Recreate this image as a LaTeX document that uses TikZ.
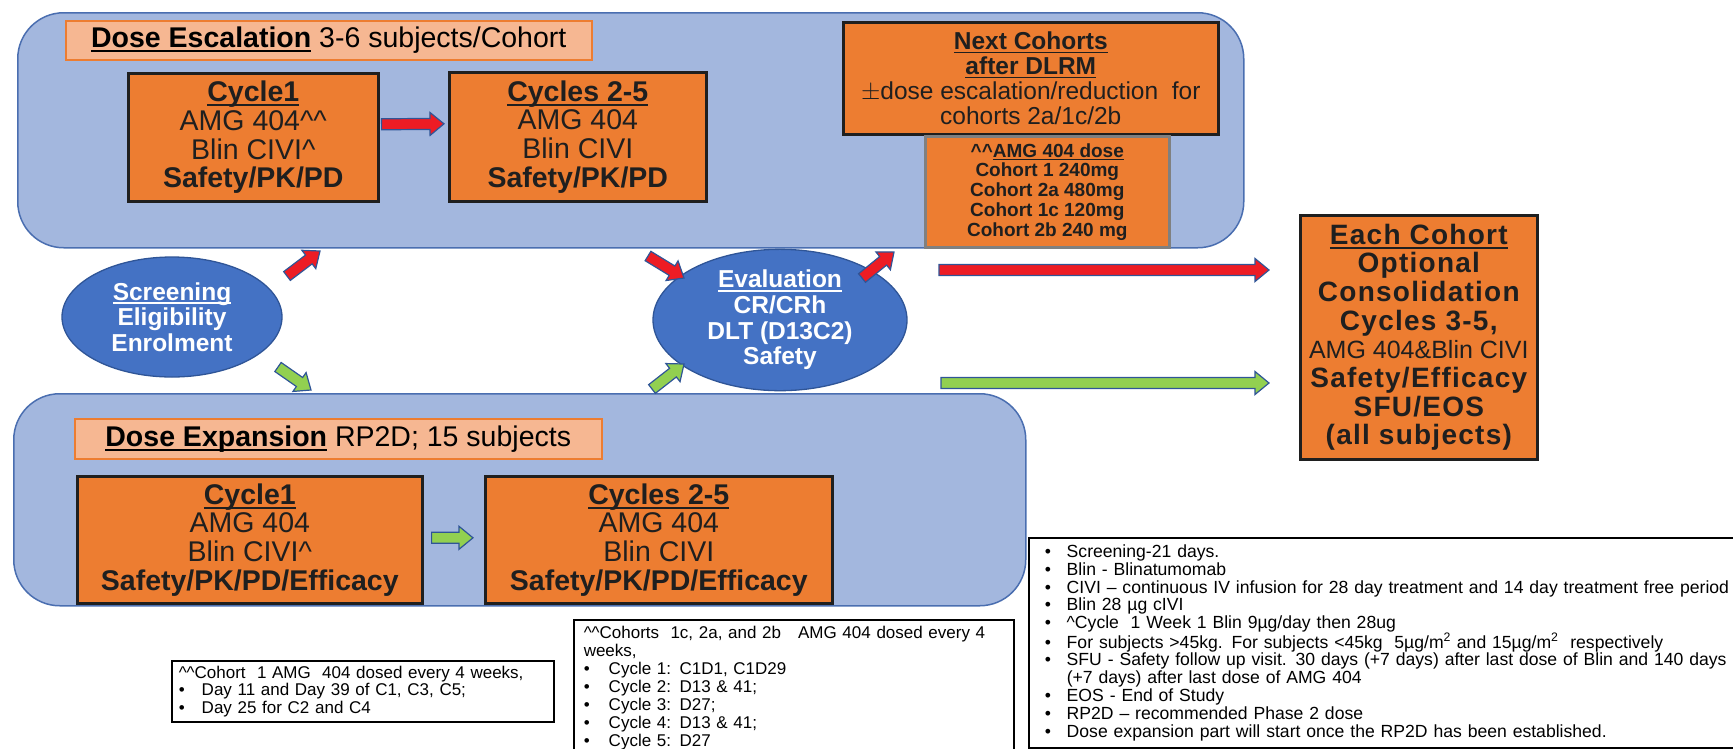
\documentclass[tikz,border=0pt]{standalone}
\usepackage{fontspec}
\setmainfont{Liberation Sans}
\newfontfamily\widefont[LetterSpace=4.5]{Liberation Sans}
\usetikzlibrary{shapes.geometric,calc}

\definecolor{panelblue}{HTML}{A3B7DE}
\definecolor{paneledge}{HTML}{4A6EB0}
\definecolor{boxorange}{HTML}{ED7D31}
\definecolor{tagfill}{HTML}{F6B792}
\definecolor{ovalblue}{HTML}{4472C4}
\definecolor{arrowred}{HTML}{ED1C24}
\definecolor{arrowgreen}{HTML}{92D050}
\definecolor{arrowedge}{HTML}{2F5597}

% underlined heading word
\newsavebox{\hdrbox}
\newcommand{\hdr}[1]{\sbox{\hdrbox}{#1}\rlap{\rule[-0.16em]{\wd\hdrbox}{0.07em}}\usebox{\hdrbox}}
% bullet for the note boxes
\newcommand{\notebullet}[1][22pt]{\makebox[#1][l]{\textbullet}}
% block arrow from #2 to #3
\newcommand{\fatarrow}[3]{%
  \coordinate (fa-h) at ($#3!14pt!#2$);
  \filldraw[#1] ($#2!5.5pt!90:#3$) -- ($(fa-h)!5.5pt!-90:#2$) -- ($(fa-h)!11.5pt!-90:#2$) -- #3
    -- ($(fa-h)!11.5pt!90:#2$) -- ($(fa-h)!5.5pt!90:#2$) -- ($#2!5.5pt!-90:#3$) -- cycle;}

\tikzset{
  panel/.style={draw=paneledge, line width=1.5pt, fill=panelblue, rounded corners=46pt, anchor=north west},
  tag/.style={draw=boxorange, line width=1.5pt, fill=tagfill, anchor=north west, inner sep=0pt,
    font=\fontsize{28.5}{30}\selectfont},
  obox/.style={draw=black!88, line width=2.6pt, fill=boxorange, anchor=north west, align=center,
    inner sep=0pt, text=black!88, font=\fontsize{28.5}{28.7}\selectfont},
  oval/.style={ellipse, draw=arrowedge, line width=1.3pt, fill=ovalblue, text=white, align=center,
    inner sep=0pt, font=\bfseries\fontsize{24.5}{25.7}\selectfont},
  note/.style={draw=black, line width=1.5pt, fill=white, anchor=north west, align=left},
  redarrow/.style={fill=arrowred, draw=arrowedge, line width=1.2pt, line join=miter},
  greenarrow/.style={fill=arrowgreen, draw=arrowedge, line width=1.2pt, line join=miter},
}

\begin{document}
\begin{tikzpicture}[x=1pt, y=-1pt]
\useasboundingbox (0,0) rectangle (1733,748);
\clip (0,0) rectangle (1733,748);

% the two phases
\node[panel, minimum width=1226, minimum height=235] (escpanel) at (17,12) {};
\node[panel, minimum width=1012, minimum height=212] (exppanel) at (13,393) {};

\node[tag, minimum width=526, minimum height=39] (esctag) at (65,20) {\hdr{\textbf{Dose Escalation}} 3-6 subjects/Cohort};
\node[tag, minimum width=527, minimum height=40] (exptag) at (74,418) {\hdr{\textbf{Dose Expansion}} RP2D; 15 subjects};

% escalation cycles
\node[obox, minimum width=250, minimum height=128] (esc1) at (127,72)
  {\hdr{\textbf{Cycle1}}\\AMG 404\textasciicircum\textasciicircum\\Blin CIVI\textasciicircum\\\textbf{Safety/PK/PD}};
\node[obox, minimum width=257, minimum height=129] (esc2) at (448,71)
  {\hdr{\textbf{Cycles 2-5}}\\AMG 404\\Blin CIVI\\\textbf{Safety/PK/PD}};

\node[obox, minimum width=375, minimum height=112, font=\fontsize{24.5}{25}\selectfont] (next) at (842,21)
  {\hdr{\textbf{Next Cohorts}}\\\hdr{\textbf{after DLRM}}\\$\pm$dose escalation/reduction\ \ for\\cohorts 2a/1c/2b};
\node[obox, draw=black!50, minimum width=244, minimum height=111, font=\bfseries\fontsize{19}{19.8}\selectfont] (dose) at (924,135)
  {\textasciicircum\textasciicircum\hdr{AMG 404 dose}\\Cohort 1 240mg\\Cohort 2a 480mg\\Cohort 1c 120mg\\Cohort 2b 240 mg};

% screening and evaluation
\node[oval, minimum width=220, minimum height=120] (scr) at (172,317) {\hdr{Screening}\\Eligibility\\Enrolment};
\node[oval, minimum width=254, minimum height=116] (eval) at (780,320) {\hdr{Evaluation}\\CR/CRh\\DLT (D13C2)\\Safety};

% consolidation
\node[obox, minimum width=237, minimum height=244, font=\widefont\bfseries\fontsize{28}{28.7}\selectfont] (cons) at (1299,214)
  {\hdr{Each Cohort}\\Optional\\Consolidation\\Cycles 3-5,\\{\normalfont\fontsize{25}{28.7}\selectfont AMG 404\&Blin CIVI}\\Safety/Efficacy\\SFU/EOS\\(all subjects)};

% expansion cycles
\node[obox, minimum width=345, minimum height=127] (exp1) at (76,475)
  {\hdr{\textbf{Cycle1}}\\AMG 404\\Blin CIVI\textasciicircum\\\textbf{Safety/PK/PD/Efficacy}};
\node[obox, minimum width=347, minimum height=127] (exp2) at (484,475)
  {\hdr{\textbf{Cycles 2-5}}\\AMG 404\\Blin CIVI\\\textbf{Safety/PK/PD/Efficacy}};

% notes
\node[note, text width=740, minimum height=210, inner xsep=16pt, inner ysep=0pt, font=\fontsize{17.6}{17.8}\selectfont] (glossary) at (1028,537)
  {\notebullet Screening-21 days.\\
   \notebullet Blin - Blinatumomab\\
   \notebullet CIVI -- continuous IV infusion for 28 day treatment and 14 day treatment free period\\
   \notebullet Blin 28 µg cIVI\\
   \notebullet \textasciicircum Cycle\ \ 1 Week 1 Blin 9µg/day then 28ug\\
   \notebullet For subjects >45kg. For subjects <45kg\ \ 5µg/m\textsuperscript{2} and 15µg/m\textsuperscript{2}\ \ respectively\\
   \notebullet SFU - Safety follow up visit. 30 days (+7 days) after last dose of Blin and 140 days\\
   \hspace*{22pt}(+7 days) after last dose of AMG 404\\
   \notebullet EOS - End of Study\\
   \notebullet RP2D -- recommended Phase 2 dose\\
   \notebullet Dose expansion part will start once the RP2D has been established.};
\node[note, text width=368, inner xsep=7pt, inner ysep=5pt, font=\fontsize{17}{17.7}\selectfont] (c1note) at (171,660)
  {\textasciicircum\textasciicircum Cohort\ \ 1 AMG\ \ 404 dosed every 4 weeks,\\
   \notebullet[23pt]Day 11 and Day 39 of C1, C3, C5;\\
   \notebullet[23pt]Day 25 for C2 and C4};
\node[note, text width=420, inner xsep=10pt, inner ysep=6pt, font=\fontsize{17}{18}\selectfont] (c2note) at (573,619)
  {\textasciicircum\textasciicircum Cohorts\ \ 1c, 2a, and 2b\ \ \ AMG 404 dosed every 4\\
   weeks,\\
   \notebullet[25pt]Cycle 1: C1D1, C1D29\\
   \notebullet[25pt]Cycle 2: D13 \& 41;\\
   \notebullet[25pt]Cycle 3: D27;\\
   \notebullet[25pt]Cycle 4: D13 \& 41;\\
   \notebullet[25pt]Cycle 5: D27\\ \ };

% connectors
\coordinate (a8s) at ($(esc1.east)+(2,-13)$);
\coordinate (a8e) at ($(esc2.west)+(-4,-13)$);
\coordinate (a9s) at ($(exp1.east)+(8,-2)$);
\coordinate (a9e) at ($(exp2.west)+(-11,-2)$);
\coordinate (a1s) at (287,276);
\coordinate (a1e) at (320,251);
\coordinate (a2s) at (278,367);
\coordinate (a2e) at (311,390);
\coordinate (a3s) at (648,256);
\coordinate (a3e) at (684,278);
\coordinate (a4s) at (652,389);
\coordinate (a4e) at (684,364);
\coordinate (a5s) at (862,278);
\coordinate (a5e) at (894,252);
\coordinate (a6s) at (939,270);
\coordinate (a6e) at (1269,270);
\coordinate (a7s) at (941,383);
\coordinate (a7e) at (1269,383);

\fatarrow{redarrow}{(a8s)}{(a8e)}
\fatarrow{greenarrow}{(a9s)}{(a9e)}
\fatarrow{redarrow}{(a1s)}{(a1e)}
\fatarrow{greenarrow}{(a2s)}{(a2e)}
\fatarrow{redarrow}{(a3s)}{(a3e)}
\fatarrow{greenarrow}{(a4s)}{(a4e)}
\fatarrow{redarrow}{(a5s)}{(a5e)}
\fatarrow{redarrow}{(a6s)}{(a6e)}
\fatarrow{greenarrow}{(a7s)}{(a7e)}

\end{tikzpicture}
\end{document}
